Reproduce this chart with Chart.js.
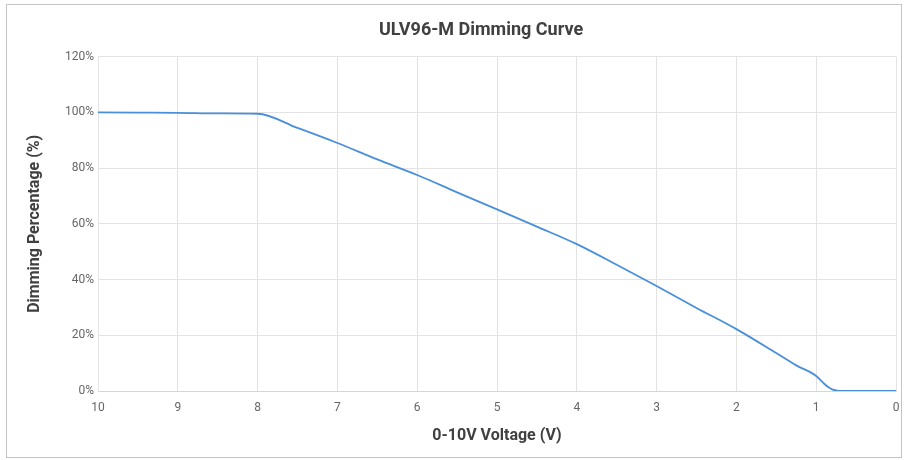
<!DOCTYPE html>
<html>
<head>
<meta charset="utf-8">
<script src="https://cdn.jsdelivr.net/npm/chart.js@4.4.1/dist/chart.umd.min.js"></script>
<style>
  html, body { margin: 0; padding: 0; background: #ffffff; }
  #frame { position: absolute; left: 6px; top: 4px; width: 896px; height: 454px; box-sizing: border-box; border: 1px solid #c4c4c4; background: #fff; }
  canvas { display: block; }
</style>
</head>
<body>
<div id="frame"><canvas id="c" width="894" height="452"></canvas></div>
<script>
// Data
const voltages = [10, 9.5, 9, 8.5, 8, 7.5, 7, 6.5, 6, 5.5, 5, 4.5, 4, 3.5, 3, 2.5, 2, 1.5, 1.25, 1, 0.95, 0.9, 0.85, 0.8, 0.75, 0.7, 0.5, 0];
const dimming  = [100, 99.9, 99.8, 99.6, 99.5, 94.4, 89.0, 83.1, 77.5, 71.3, 65.2, 59.0, 52.7, 45.3, 37.7, 29.8, 22.2, 13.6, 9.2, 5.4, 4.0, 2.6, 1.4, 0.6, 0.2, 0, 0, 0];
const xTicks = [10, 9, 8, 7, 6, 5, 4, 3, 2, 1, 0];
const yTicks = [0, 20, 40, 60, 80, 100, 120];

const chartTitle = 'ULV96-M Dimming Curve';
const xTitle = '0-10V Voltage (V)';
const yTitle = 'Dimming Percentage (%)';

const points = voltages.map((v, i) => ({ x: v, y: dimming[i] }));

const titleShift = {
  id: 'titleShift',
  afterLayout(chart) {
    const t = chart.titleBlock;
    const a = chart.chartArea;
    if (!t || !a) return;
    const w = t.right - t.left;
    const c = a.left + (a.right - a.left) * 0.48;
    t.left = c - w / 2;
    t.right = c + w / 2;
  }
};

new Chart(document.getElementById('c'), {
  type: 'line',
  data: {
    datasets: [{
      data: points,
      borderColor: '#4a8fdc',
      borderWidth: 1.8,
      pointRadius: 0,
      cubicInterpolationMode: 'monotone',
      fill: false
    }]
  },
  options: {
    responsive: false,
    animation: false,
    layout: { padding: { left: 0, right: 5, top: 0, bottom: 0 } },
    plugins: {
      legend: { display: false },
      tooltip: { enabled: false },
      title: {
        display: true,
        text: chartTitle,
        color: '#404040',
        font: { family: 'Roboto', size: 18, weight: 'bold' },
        padding: { top: 15, bottom: 15 }
      }
    },
    scales: {
      x: {
        type: 'linear',
        reverse: true,
        min: 0,
        max: 10,
        afterBuildTicks(scale) { scale.ticks = xTicks.map(v => ({ value: v })); },
        afterFit(scale) { scale.height = 66; scale.paddingLeft = 0; scale.paddingRight = 0; },
        ticks: {
          color: '#666666',
          font: { family: 'Roboto', size: 12 },
          padding: 10,
          maxRotation: 0,
          autoSkip: false
        },
        grid: { color: '#e3e3e3', drawTicks: false, lineWidth: 1 },
        border: { color: '#d6d6d6' },
        title: {
          display: true,
          text: xTitle,
          color: '#404040',
          font: { family: 'Roboto', size: 16, weight: 'bold' },
          padding: { top: 4, bottom: 11 }
        }
      },
      y: {
        min: 0,
        max: 120,
        afterBuildTicks(scale) { scale.ticks = yTicks.map(v => ({ value: v })); },
        afterFit(scale) { scale.width = 91; },
        ticks: {
          color: '#666666',
          font: { family: 'Roboto', size: 12 },
          padding: 4,
          callback: v => v + '%'
        },
        grid: { color: '#e3e3e3', drawTicks: false, lineWidth: 1 },
        border: { color: '#e3e3e3' },
        title: {
          display: true,
          text: yTitle,
          color: '#404040',
          font: { family: 'Roboto', size: 16, weight: 'bold' },
          padding: { top: 18, bottom: 4 }
        }
      }
    }
  },
  plugins: [titleShift]
});
</script>
</body>
</html>
